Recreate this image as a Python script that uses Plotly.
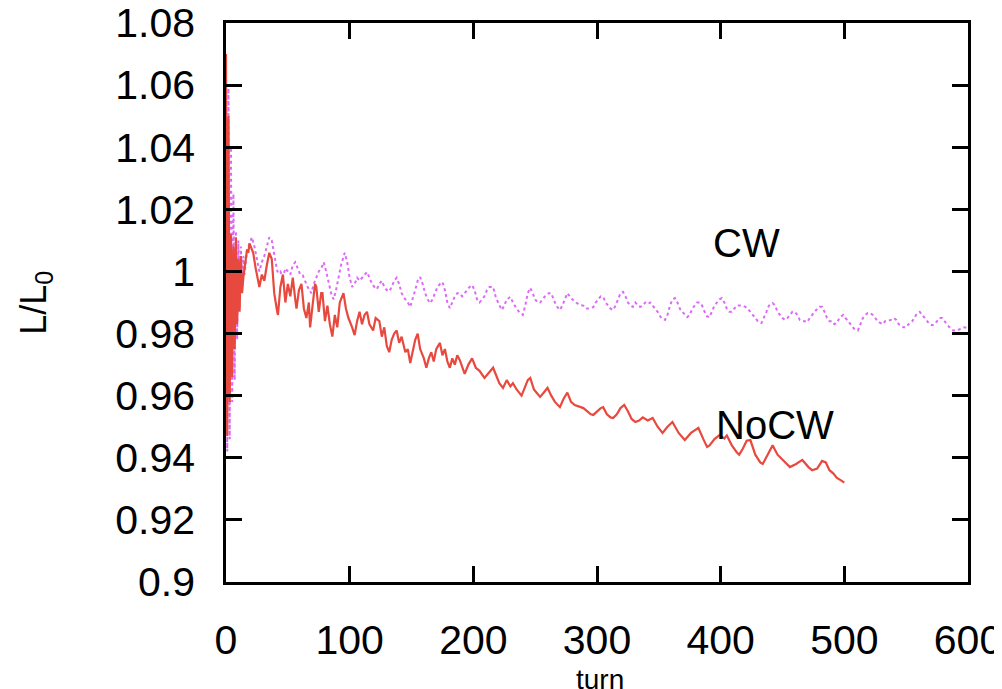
import plotly.graph_objects as go

# NoCW run (red solid line)
nocw_turn = [0, 1, 2, 3, 4, 5, 6, 7, 8, 9, 10, 11, 12, 13, 14, 15, 16, 17, 18, 19,
             20, 22, 24, 26, 27, 29, 31, 33, 35, 37, 39, 41, 42, 44, 46, 48, 50, 52, 54, 56,
             57, 59, 61, 63, 65, 67, 68, 70, 72, 73, 75, 77, 78, 80, 82, 84, 86, 88, 90, 92,
             95, 97, 99, 102, 104, 106, 108, 110, 112, 114, 116, 119, 121, 124, 126, 128, 130, 132, 134, 136,
             138, 140, 142, 145, 147, 149, 151, 153, 155, 157, 160, 162, 164, 166, 168, 170, 173, 175, 177, 179,
             181, 183, 185, 187, 189, 191, 193, 196, 199, 202, 205, 209, 212, 216, 219, 221, 224, 227, 230, 232,
             235, 237, 239, 242, 244, 246, 249, 251, 254, 257, 260, 263, 266, 270, 273, 276, 279, 282, 286, 289,
             292, 295, 297, 300, 303, 305, 308, 311, 313, 316, 319, 322, 325, 328, 331, 334, 337, 341, 345, 349,
             353, 357, 361, 366, 371, 376, 382, 386, 389, 391, 395, 399, 403, 405, 409, 413, 415, 418, 421, 424,
             428, 432, 434, 438, 442, 446, 451, 456, 461, 466, 471, 474, 478, 482, 485, 488, 491, 494, 497, 500]
nocw_val = [1.070, 0.947, 1.050, 0.958, 1.012, 0.966, 1.008, 0.975, 1.011, 0.983, 1.004, 0.987, 1.005, 0.993, 0.998, 1.002, 1.004, 1.007, 1.006, 1.009,
            1.008, 1.006, 1.001, 0.997, 0.995, 0.999, 0.997, 1.002, 1.006, 1.004, 0.993, 0.988, 0.986, 0.995, 0.999, 0.990, 0.996, 0.992, 0.998, 0.991,
            0.988, 0.994, 0.996, 0.988, 0.985, 0.990, 0.982, 0.989, 0.996, 0.995, 0.987, 0.993, 0.993, 0.984, 0.989, 0.983, 0.979, 0.986, 0.982, 0.990,
            0.993, 0.988, 0.985, 0.982, 0.9795, 0.984, 0.987, 0.983, 0.986, 0.987, 0.983, 0.981, 0.985, 0.984, 0.979, 0.982, 0.976, 0.974, 0.978, 0.980,
            0.981, 0.977, 0.979, 0.974, 0.975, 0.9705, 0.974, 0.978, 0.980, 0.975, 0.972, 0.969, 0.972, 0.974, 0.971, 0.975, 0.977, 0.973, 0.975, 0.971,
            0.969, 0.972, 0.970, 0.973, 0.9715, 0.969, 0.967, 0.970, 0.972, 0.969, 0.968, 0.9657, 0.967, 0.969, 0.966, 0.964, 0.9625, 0.965, 0.963, 0.964,
            0.962, 0.961, 0.960, 0.963, 0.965, 0.9657, 0.962, 0.961, 0.9596, 0.961, 0.9625, 0.960, 0.958, 0.9563, 0.959, 0.961, 0.958, 0.957, 0.9563, 0.956,
            0.955, 0.954, 0.9538, 0.955, 0.956, 0.9563, 0.954, 0.953, 0.9528, 0.954, 0.956, 0.957, 0.955, 0.9525, 0.9515, 0.952, 0.953, 0.952, 0.9528, 0.950,
            0.948, 0.950, 0.9515, 0.948, 0.9457, 0.948, 0.9496, 0.946, 0.9435, 0.944, 0.946, 0.9473, 0.9462, 0.9472, 0.944, 0.9418, 0.941, 0.943, 0.9455, 0.9457,
            0.941, 0.9385, 0.938, 0.941, 0.944, 0.941, 0.939, 0.937, 0.938, 0.9393, 0.937, 0.936, 0.9365, 0.939, 0.9385, 0.936, 0.935, 0.9335, 0.9328, 0.932]

# CW run (magenta dotted line)
cw_turn = [0, 1, 2, 3, 4, 5, 6, 7, 8, 9, 10, 11, 12, 13, 14, 15, 17, 19, 21, 23,
           25, 27, 29, 31, 33, 35, 37, 39, 41, 42, 44, 46, 48, 50, 52, 54, 56, 58, 60, 62,
           64, 66, 69, 71, 73, 75, 77, 79, 81, 83, 85, 87, 89, 91, 93, 96, 98, 100, 102, 104,
           106, 108, 110, 112, 114, 116, 118, 120, 122, 124, 126, 128, 130, 132, 134, 136, 138, 140, 142, 145,
           147, 149, 151, 153, 155, 157, 159, 161, 163, 165, 167, 169, 171, 173, 175, 177, 179, 181, 183, 185,
           187, 189, 191, 193, 195, 197, 199, 201, 203, 205, 207, 209, 211, 213, 216, 218, 220, 223, 225, 227,
           230, 232, 235, 237, 240, 242, 244, 246, 248, 250, 252, 254, 256, 258, 261, 263, 265, 267, 270, 272,
           274, 276, 278, 280, 283, 286, 289, 292, 295, 297, 299, 301, 303, 305, 307, 309, 311, 313, 315, 317,
           319, 321, 323, 325, 327, 329, 331, 333, 335, 337, 339, 341, 343, 345, 347, 349, 352, 355, 357, 359,
           361, 363, 365, 367, 369, 371, 373, 375, 377, 379, 381, 383, 385, 387, 389, 391, 393, 395, 397, 399,
           401, 403, 405, 407, 409, 411, 413, 415, 417, 420, 422, 424, 426, 428, 430, 433, 435, 437, 439, 442,
           444, 446, 448, 450, 452, 454, 456, 458, 460, 462, 464, 466, 468, 470, 472, 474, 476, 478, 480, 482,
           484, 486, 488, 490, 492, 494, 496, 499, 501, 503, 505, 508, 511, 513, 515, 517, 519, 521, 523, 525,
           527, 529, 531, 533, 535, 538, 540, 542, 544, 546, 548, 550, 552, 555, 558, 561, 563, 565, 567, 569,
           571, 573, 575, 577, 579, 581, 583, 585, 588, 591, 594, 597, 600]
cw_val = [1.002, 0.942, 1.059, 0.946, 1.040, 0.958, 1.025, 0.965, 1.013, 0.978, 1.010, 0.988, 1.008, 0.995, 1.005, 0.999, 1.007, 1.009, 1.011, 1.008,
          1.004, 1.000, 1.003, 1.005, 1.008, 1.011, 1.010, 1.005, 1.001, 0.9995, 1.000, 0.998, 1.001, 1.000, 0.999, 1.002, 1.003, 1.001, 0.999, 0.9988,
          0.997, 0.995, 0.993, 0.996, 0.998, 1.000, 1.001, 1.003, 1.000, 0.996, 0.993, 0.991, 0.994, 0.998, 1.002, 1.006, 1.003, 0.998, 0.995, 0.996,
          0.998, 0.997, 0.998, 0.999, 0.9998, 0.998, 0.996, 0.995, 0.9943, 0.996, 0.997, 0.995, 0.994, 0.9936, 0.995, 0.997, 0.998, 0.996, 0.993, 0.991,
          0.990, 0.9886, 0.991, 0.994, 0.997, 0.9982, 0.996, 0.993, 0.991, 0.9898, 0.991, 0.993, 0.995, 0.996, 0.9966, 0.994, 0.990, 0.9882, 0.990, 0.992,
          0.993, 0.993, 0.992, 0.993, 0.994, 0.995, 0.9956, 0.994, 0.991, 0.990, 0.991, 0.992, 0.994, 0.995, 0.995, 0.992, 0.990, 0.9876, 0.989, 0.991,
          0.9918, 0.990, 0.988, 0.987, 0.986, 0.989, 0.993, 0.9947, 0.993, 0.991, 0.990, 0.990, 0.991, 0.992, 0.993, 0.993, 0.991, 0.989, 0.9876, 0.989,
          0.991, 0.993, 0.992, 0.991, 0.990, 0.9892, 0.989, 0.988, 0.9882, 0.9885, 0.990, 0.991, 0.992, 0.9918, 0.990, 0.989, 0.988, 0.9876, 0.989, 0.991,
          0.993, 0.9934, 0.992, 0.990, 0.989, 0.9886, 0.990, 0.989, 0.9886, 0.989, 0.990, 0.9895, 0.990, 0.989, 0.988, 0.987, 0.985, 0.9844, 0.986, 0.989,
          0.991, 0.9914, 0.990, 0.988, 0.987, 0.986, 0.9853, 0.986, 0.988, 0.989, 0.990, 0.990, 0.989, 0.987, 0.9855, 0.9853, 0.987, 0.989, 0.990, 0.991,
          0.9914, 0.990, 0.988, 0.987, 0.987, 0.988, 0.989, 0.989, 0.989, 0.9886, 0.988, 0.987, 0.986, 0.985, 0.984, 0.9834, 0.985, 0.987, 0.989, 0.9898,
          0.989, 0.987, 0.986, 0.985, 0.9844, 0.985, 0.986, 0.987, 0.987, 0.986, 0.9844, 0.984, 0.984, 0.9837, 0.985, 0.986, 0.987, 0.988, 0.9886, 0.9886,
          0.987, 0.985, 0.984, 0.984, 0.983, 0.9834, 0.985, 0.986, 0.985, 0.984, 0.983, 0.9815, 0.981, 0.983, 0.985, 0.986, 0.9866, 0.9866, 0.986, 0.985,
          0.984, 0.9834, 0.983, 0.984, 0.984, 0.9845, 0.985, 0.9844, 0.983, 0.9825, 0.982, 0.982, 0.983, 0.984, 0.986, 0.987, 0.986, 0.985, 0.984, 0.983,
          0.9827, 0.983, 0.984, 0.985, 0.985, 0.984, 0.983, 0.982, 0.981, 0.981, 0.9815, 0.982, 0.9818]

x_ticks = [0, 100, 200, 300, 400, 500, 600]
y_ticks = [0.9, 0.92, 0.94, 0.96, 0.98, 1.0, 1.02, 1.04, 1.06, 1.08]
y_labels = ['0.9', '0.92', '0.94', '0.96', '0.98', '1', '1.02', '1.04', '1.06', '1.08']

fig = go.Figure()
fig.add_trace(go.Scatter(x=cw_turn, y=cw_val, mode='lines', name='CW',
                         line=dict(color='#dc6af7', width=2, dash='dot')))
fig.add_trace(go.Scatter(x=nocw_turn, y=nocw_val, mode='lines', name='NoCW',
                         line=dict(color='#e8493f', width=2.2)))

font = 'Liberation Sans, Arial, sans-serif'
fig.add_annotation(x=421, y=1.0091, text='CW', showarrow=False,
                   font=dict(family=font, size=40, color='black'))
fig.add_annotation(x=444, y=0.9505, text='NoCW', showarrow=False,
                   font=dict(family=font, size=40, color='black'))
fig.add_annotation(xref='paper', yref='paper', x=0.504, y=-0.143, xanchor='center', yanchor='top',
                   text='turn', showarrow=False, font=dict(family=font, size=28, color='black'))
fig.add_annotation(xref='paper', yref='paper', x=-0.257, y=0.5, xanchor='center', yanchor='middle',
                   textangle=-90, text='L/L<sub>0</sub>', showarrow=False,
                   font=dict(family=font, size=36, color='black'))

axis_style = dict(showline=True, linewidth=2.5, linecolor='black', mirror='ticks',
                  ticks='inside', ticklen=16, tickwidth=2.5, tickcolor='black',
                  showgrid=False, zeroline=False, automargin=False,
                  ticklabeloverflow='allow',
                  tickfont=dict(family=font, size=41, color='black'))
fig.update_xaxes(range=[0, 600], tickvals=x_ticks, ticklabelstandoff=20, **axis_style)
fig.update_yaxes(range=[0.9, 1.08], tickvals=y_ticks, ticktext=y_labels, ticklabelstandoff=20, **axis_style)

fig.update_layout(width=1002, height=689, showlegend=False,
                  margin=dict(l=218, r=42, t=15, b=115),
                  paper_bgcolor='white', plot_bgcolor='white')

fig.write_html('out.html')
